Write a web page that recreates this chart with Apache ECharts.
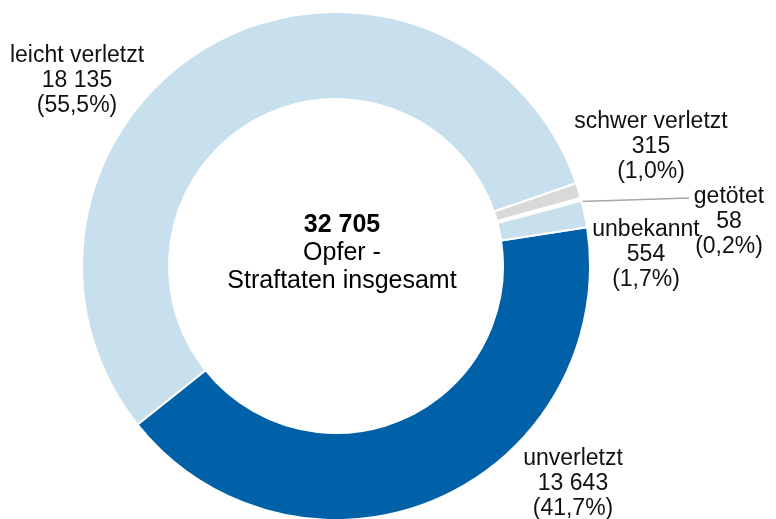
<!DOCTYPE html>
<html>
<head>
<meta charset="utf-8">
<script src="https://cdn.jsdelivr.net/npm/echarts@6/dist/echarts.min.js"></script>
<style>
  html, body { margin: 0; padding: 0; background: #fff; }
  #chart { width: 776px; height: 519px; }
</style>
</head>
<body>
<div id="chart"></div>
<script>
// Opfer nach Verletzungsgrad
const categories = ['unverletzt', 'leicht verletzt', 'schwer verletzt', 'getötet', 'unbekannt'];
const values = [13643, 18135, 315, 58, 554];
const percents = ['41,7', '55,5', '1,0', '0,2', '1,7'];
const colors = ['#0061a8', '#c8dfee', '#d9d9d9', '#ffffff', '#c8dfee'];
const total = 32705;

// label block centres (x, y) per slice
const labelPos = [[573, 484], [77, 81], [651, 147], [729, 222], [646, 255]];

const center = [336, 266];
const startAngle = 8.8;

function fmt(v) {
  return String(v).replace(/\B(?=(\d{3})+(?!\d))/g, ' ');
}

// mid angle of a slice, in degrees (clockwise from startAngle)
function midAngle(i) {
  let before = 0;
  for (let k = 0; k < i; k++) before += values[k];
  const sum = values.reduce((a, b) => a + b, 0);
  return startAngle - (before + values[i] / 2) / sum * 360;
}

const chart = echarts.init(document.getElementById('chart'));

chart.setOption({
  animation: false,
  title: {
    text: '{b|' + fmt(total) + '}\n{n|Opfer -}\n{n|Straftaten insgesamt}',
    left: 337,
    top: 206,
    textAlign: 'center',
    textStyle: {
      rich: {
        b: {fontFamily: 'Liberation Sans', fontSize: 25, fontWeight: 'bold', color: '#000', lineHeight: 28},
        n: {fontFamily: 'Liberation Sans', fontSize: 25, fontWeight: 'normal', color: '#000', lineHeight: 28}
      }
    }
  },
  series: [
    {
      type: 'pie',
      center: center,
      radius: [167, 254],
      startAngle: startAngle,
      clockwise: true,
      avoidLabelOverlap: false,
      emphasis: {disabled: true},
      itemStyle: {borderColor: '#fff', borderWidth: 2},
      label: {
        show: true,
        position: 'outside',
        fontFamily: 'Liberation Sans',
        fontSize: 23,
        lineHeight: 25,
        color: '#111',
        align: 'center',
        formatter: (p) => p.name + '\n' + fmt(p.value) + '\n(' + percents[p.dataIndex] + '%)'
      },
      labelLine: {show: false},
      labelLayout: (params) => {
        const i = params.dataIndex;
        const p = labelPos[i];
        const res = {x: p[0], y: p[1], align: 'center', verticalAlign: 'middle'};
        if (i === 3) {
          const a = midAngle(i) * Math.PI / 180;
          const r = 245;
          res.labelLinePoints = [
            [center[0] + r * Math.cos(a), center[1] - r * Math.sin(a)],
            [p[0] - 40, p[1] - 24],
            [p[0] - 40, p[1] - 24]
          ];
        }
        return res;
      },
      data: categories.map((name, i) => ({
        name: name,
        value: values[i],
        itemStyle: {color: colors[i]},
        labelLine: i === 3 ? {show: true, lineStyle: {color: '#a6a6a6', width: 1.5}} : undefined
      }))
    }
  ]
});
</script>
</body>
</html>
